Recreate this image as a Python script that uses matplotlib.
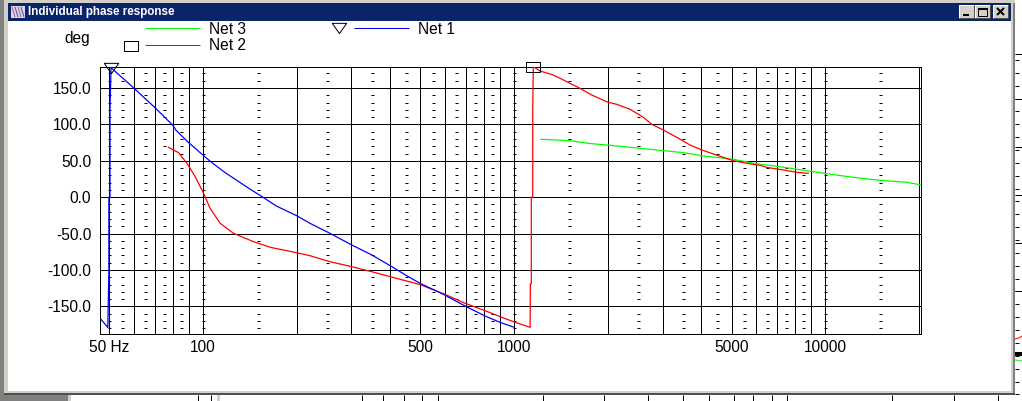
import matplotlib
matplotlib.use("Agg")
import matplotlib.pyplot as plt
from matplotlib.patches import Rectangle
from matplotlib.path import Path

plt.rcParams["font.family"] = ["Liberation Sans", "DejaVu Sans"]

WIDTH = 1022
HEIGHT = 401
PX = 72 / 100

# Net 1: wraps around from -180 to +180 just at 50 Hz
net1_freq = [47.1, 49.3, 49.5, 49.9, 49.9, 50.3, 50.3, 50.7, 60, 70, 80, 82, 90, 100, 106, 113, 118,
             129, 142, 156, 172, 201, 221, 256, 301, 349, 400, 452, 499, 593, 696, 807, 902, 995]
net1_phase = [-168, -178, -179, -100, 0, 0, 120, 178, 150, 123.5, 99, 92, 75, 58, 48.8, 39.7, 33.7,
              22.7, 10.9, 0, -12, -25.8, -35.9, -49.6, -65.7, -79.4, -94.1, -107.9, -118.4, -133.5,
              -149.5, -163.3, -172, -178.4]

# Net 2: same wrap, just above 1100 Hz
net2_freq = [77.5, 83.5, 88.9, 94.5, 100, 105.5, 113.7, 125.4, 145.4, 164.5, 200, 221, 256, 301, 349,
             400, 452, 499, 593, 696, 807, 902, 995, 1126, 1128, 1136, 1136, 1148, 1148, 1153, 1212,
             1337, 1477, 1629, 1777, 1994, 2138, 2358, 2603, 2770, 3018, 3332, 3677, 4009, 4533,
             5064, 5591, 6170, 6482, 7331, 8092, 8820]
net2_phase = [68.6, 61.2, 46.6, 28.2, 7.6, -15.3, -35.9, -49.6, -61.1, -68.8, -76.3, -80.4, -88.6,
              -95.5, -102.4, -109.2, -115.2, -120.2, -132.6, -145.8, -156, -164.2, -171, -178.8,
              -119, -119, 0, 0, 119, 179.3, 173.4, 167.9, 158.7, 149.6, 140.4, 130.8, 127.6, 120.8,
              109.8, 100.2, 92.3, 82.3, 71.7, 64.9, 57, 50.2, 46.6, 43.8, 41, 37.4, 34.2, 32.8]

net3_freq = [1221, 1513, 1733, 2034, 2358, 2873, 3499, 4055, 5064, 5874, 7154, 8713, 10104, 12300,
             14986, 18250, 20200]
net3_phase = [79.6, 77.6, 74, 71.3, 68.6, 64.9, 61.2, 56.6, 52.1, 46.6, 41.9, 36.4, 32.3, 27.3,
              23.2, 20.5, 17]

net1_marker = (50.5, 177.4)
net2_marker = (1153, 179.3)

grid_freq = [50, 60, 70, 80, 90, 100, 200, 300, 400, 500, 600, 700, 800, 900, 1000, 2000, 3000, 4000,
             5000, 6000, 7000, 8000, 9000, 10000, 20000]
freq_labels = {50: "50 Hz", 100: "100", 500: "500", 1000: "1000", 5000: "5000", 10000: "10000"}
phase_ticks = [-150, -100, -50, 0, 50, 100, 150]
dash_freq = [50, 55, 65, 75, 85, 100, 150, 250, 350, 450, 550, 650, 750, 850, 1000, 1500, 2500, 3500,
             4500, 5500, 6500, 7500, 8500, 10000, 15000]
dash_phase = [p for p in range(-180, 180, 10) if p % 50 != 0]

GREEN = "#00ff00"
RED = "#ff0000"
BLUE = "#0000ff"
FACE = "#d4d0c8"
TITLE_BLUE = "#0a246a"

triangle = Path([(-1.4, 1), (1.4, 1), (0, -1), (-1.4, 1)], closed=True)
box = Path([(-1.44, -1), (1.44, -1), (1.44, 1), (-1.44, 1), (-1.44, -1)], closed=True)

fig = plt.figure(figsize=(WIDTH / 100, HEIGHT / 100), dpi=100, facecolor="white")

# window furniture, in pixel coordinates
chrome = fig.add_axes([0, 0, 1, 1])
chrome.set_xlim(0, WIDTH)
chrome.set_ylim(HEIGHT, 0)
chrome.axis("off")


def block(x0, y0, x1, y1, color):
    chrome.add_patch(Rectangle((x0, y0), x1 - x0, y1 - y0, facecolor=color, edgecolor="none",
                               antialiased=False))


def seg(xs, ys, color="black", lw=1):
    chrome.plot(xs, ys, color=color, lw=lw * PX, solid_capstyle="butt")


block(0, 394, 68, HEIGHT, "#808080")
block(68, 394, 71, HEIGHT, FACE)
block(217, 394, 220, HEIGHT, FACE)
block(0, 0, 4, HEIGHT, "#808080")
block(4, 0, 1015, 394, FACE)
block(1013, 3, 1015, 394, "#808080")
block(4, 393, 1015, 395, "#505050")
block(8, 21, 1011, 391, "white")
block(8, 3, 1011, 21, TITLE_BLUE)

for x in [198, 211, 362, 383, 404, 422, 438, 543, 604, 648, 683, 709, 734, 753, 772, 787, 892, 954, 998]:
    seg([x, x], [395, HEIGHT])
for k in range(27):
    y = 60 + 12.86 * k
    seg([1015, 1019], [y, y])
for y in [54, 99, 147, 195, 243, 291]:
    seg([1015, 1022], [y, y])
block(1015, 352, 1022, 356, "black")
seg([1015, 1019, 1022], [339, 338, 336], RED)
seg([1015, 1022], [360, 361], GREEN)

# title bar icon and buttons
block(11, 6, 25, 18, "#d8d8e8")
for k in range(4):
    seg([12 + 3 * k, 15 + 3 * k], [7, 17], "#4050c0" if k % 2 else "#c05070")
for x0 in [959, 975, 993]:
    block(x0, 5, x0 + 15, 18, FACE)
    seg([x0, x0 + 15], [5, 5], "white")
    seg([x0, x0], [5, 18], "white")
    seg([x0, x0 + 15, x0 + 15], [18, 18, 5], "#505050")
block(963, 14, 969, 16, "black")
chrome.add_patch(Rectangle((978, 8), 9, 8, facecolor="none", edgecolor="black", lw=PX))
block(978, 8, 988, 10, "black")
seg([997, 1004], [8, 15], lw=2)
seg([997, 1004], [15, 8], lw=2)

chrome.text(28, 12, "Individual phase response", color="white", fontsize=8.4, fontweight="bold",
            family=["Liberation Sans"], va="center", ha="left")

# legend
chrome.text(90, 38, "deg", fontsize=11.2, ha="right", va="center")
seg([145, 200], [28, 28], GREEN)
chrome.text(209, 29.5, "Net 3", fontsize=11.2, ha="left", va="center")
seg([145, 200], [45, 45], RED)
chrome.text(209, 46, "Net 2", fontsize=11.2, ha="left", va="center")
seg([354, 409], [28, 28], BLUE)
chrome.text(418, 29.5, "Net 1", fontsize=11.2, ha="left", va="center")
chrome.plot([339], [28], marker=triangle, ms=14.4 * PX, mfc="none", mec="black", mew=PX, ls="none")
chrome.plot([130.5], [45.5], marker=box, ms=14.4 * PX, mfc="none", mec="black", mew=PX, ls="none")

# the chart
ax = fig.add_axes([99.5 / WIDTH, (HEIGHT - 334.3) / HEIGHT, 821.1 / WIDTH, 267.8 / HEIGHT])
ax.patch.set_alpha(0)
ax.set_xscale("log")
ax.set_xlim(46.55, 20240)
ax.set_ylim(-188.4, 179.6)

ax.set_xticks(grid_freq)
ax.set_xticklabels([freq_labels.get(f, "") for f in grid_freq], fontsize=11.2)
ax.minorticks_off()
ax.set_yticks(phase_ticks)
ax.set_yticklabels([f"{p:.1f}" for p in phase_ticks], fontsize=11.2)
ax.tick_params(axis="both", length=0)
ax.tick_params(axis="x", pad=4)
ax.tick_params(axis="y", pad=6)
ax.grid(True, color="black", lw=PX)
ax.set_axisbelow(True)
for spine in ax.spines.values():
    spine.set_linewidth(PX)
    spine.set_color("black")

for f in dash_freq:
    ax.plot([f] * len(dash_phase), dash_phase, ls="none", marker="_", ms=3 * PX, mew=PX,
            color="black", zorder=1.5)

ax.plot(net3_freq, net3_phase, color=GREEN, lw=1.25 * PX, zorder=3)
ax.plot(net2_freq, net2_phase, color=RED, lw=1.25 * PX, zorder=4)
ax.plot(net1_freq, net1_phase, color=BLUE, lw=1.25 * PX, zorder=5)

ax.plot(*net1_marker, marker=triangle, ms=14.4 * PX, mfc="none", mec="black", mew=PX,
        clip_on=False, zorder=6)
ax.plot(*net2_marker, marker=box, ms=14.4 * PX, mfc="none", mec="black", mew=PX,
        clip_on=False, zorder=6)

fig.savefig("out.png", dpi=100)
